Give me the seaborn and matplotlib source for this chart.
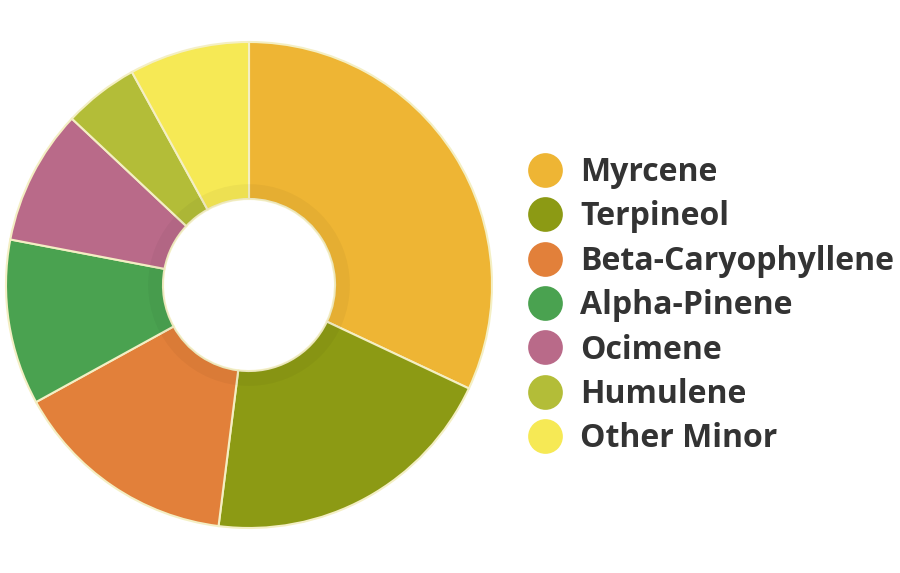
import matplotlib
matplotlib.use("Agg")
import seaborn as sns
import matplotlib.pyplot as plt
from matplotlib.lines import Line2D
from matplotlib.patches import Wedge

# terpene-aandelen (procent), met de klok mee vanaf 12 uur
terpenes = ['Myrcene', 'Terpineol', 'Beta-Caryophyllene', 'Alpha-Pinene',
            'Ocimene', 'Humulene', 'Other Minor']
shares = [32, 20, 15, 11, 9, 5, 8]
colors = ['#EEB534', '#8C9A14', '#E2803A', '#4AA250', '#B96A89', '#B3BD38', '#F6E955']

sns.set_theme(style='white')
plt.rcParams['font.family'] = ['Open Sans', 'DejaVu Sans']

fig = plt.figure(figsize=(9, 5.73), dpi=100)
ax = fig.add_axes([6 / 900, 45 / 573, 486 / 900, 486 / 573])

wedges, _ = ax.pie(shares, colors=colors, startangle=90, counterclock=False,
                   radius=1, wedgeprops=dict(width=1 - 0.354, edgecolor='#F4EFC4', linewidth=1.5))

# lichte schaduwrand rond het gat
ax.add_patch(Wedge((0, 0), 0.415, 0, 360, width=0.062, facecolor='black', alpha=0.035, lw=0))

ax.set_xlim(-1, 1)
ax.set_ylim(-1, 1)
ax.set_aspect('equal')
ax.axis('off')

# legenda met ronde stippen
fs = 23
handles = [Line2D([], [], marker='o', linestyle='', markersize=25, markerfacecolor=c,
                  markeredgewidth=0) for c in colors]
fig.legend(handles, terpenes, loc='upper left', bbox_to_anchor=(525 / 900, 1 - 156 / 573),
           frameon=False, labelspacing=0.357, handletextpad=0.47,
           borderaxespad=0, borderpad=0, prop=dict(weight='bold', size=fs),
           labelcolor='#333333', handlelength=1.25)

fig.savefig('out.png', dpi=100)
